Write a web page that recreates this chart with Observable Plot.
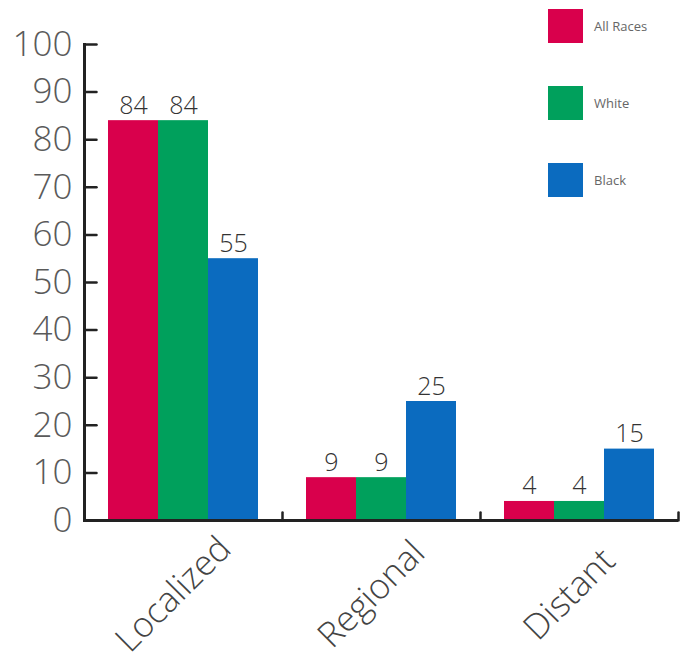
<!DOCTYPE html>
<html>
<head>
<meta charset="utf-8">
<script src="https://cdn.jsdelivr.net/npm/d3@7"></script>
<script src="https://cdn.jsdelivr.net/npm/@observablehq/plot@0.6"></script>
<style>
  html, body { margin: 0; padding: 0; background: #fff; }
  #wrap { position: relative; width: 681px; height: 665px; }
  #legend { position: absolute; left: 548px; top: 8px; font-family: "Open Sans", "DejaVu Sans", sans-serif; font-size: 13px; color: #666; }
  .item { display: flex; align-items: center; height: 35px; margin-bottom: 42px; }
  .swatch { width: 35px; height: 34px; margin-right: 11px; }
</style>
</head>
<body>
<div id="wrap">
  <div id="chart"></div>
  <div id="legend"></div>
</div>
<script>
// Stage at diagnosis and race groups
const stages = ["Localized", "Regional", "Distant"];
const races = ["All Races", "White", "Black"];
const allRaces = [84, 9, 4];
const white = [84, 9, 4];
const black = [55, 25, 15];
const colors = ["#d9004c", "#00a05c", "#0b6bbf"];
const yTicks = [0, 10, 20, 30, 40, 50, 60, 70, 80, 90, 100];

const seriesValues = [allRaces, white, black];
const rows = stages.flatMap((stage, i) =>
  races.map((race, j) => ({stage, race, value: seriesValues[j][i]}))
);

const font = '"Open Sans", "DejaVu Sans", sans-serif';

// plain straight tick stroke (no arrowhead)
const tickShape = {
  draw(context, l) {
    context.moveTo(0, 0);
    context.lineTo(0, -l);
  }
};

const chart = Plot.plot({
  width: 681,
  height: 665,
  marginLeft: 83,
  marginRight: 3,
  marginTop: 44,
  marginBottom: 145,
  style: {fontFamily: font, background: "#fff"},
  fx: {domain: stages, padding: 0, axis: null},
  x: {domain: races, paddingInner: 0, paddingOuter: 0.47, axis: null},
  y: {domain: [0, 100]},
  color: {domain: races, range: colors},
  marks: [
    Plot.barY(rows, {fx: "stage", x: "race", y: "value", fill: "race"}),
    Plot.text(rows, {
      fx: "stage", x: "race", y: "value", text: "value",
      lineAnchor: "bottom", dy: -7, fontSize: 25, fill: "#333", fontWeight: 300
    }),
    // axis lines and ticks
    Plot.ruleY([0], {stroke: "#222", strokeWidth: 3}),
    Plot.frame({anchor: "left", facetAnchor: "left", stroke: "#222", strokeWidth: 3}),
    Plot.vector(yTicks, {
      y: d => d, frameAnchor: "left", rotate: 90, length: 12, anchor: "start",
      shape: tickShape, stroke: "#222", strokeWidth: 2.5, facetAnchor: "left"
    }),
    Plot.vector([0], {
      frameAnchor: "bottom-right", length: 8, anchor: "start",
      shape: tickShape, stroke: "#222", strokeWidth: 2.5
    }),
    Plot.axisY({
      ticks: yTicks, tickSize: 0, tickPadding: 12, fontSize: 35,
      fill: "#5a5a5a", fontWeight: 300, label: null
    }),
    // category labels under each group
    Plot.text(stages, {
      fx: d => d, text: d => d, frameAnchor: "bottom", rotate: -45,
      dy: 82, dx: -2, fontSize: 35, fill: "#444", fontWeight: 300
    })
  ]
});

document.getElementById("chart").appendChild(chart);

// legend on the upper right
const legend = d3.select("#legend");
races.forEach((race, i) => {
  const item = legend.append("div").attr("class", "item");
  item.append("div").attr("class", "swatch").style("background", colors[i]);
  item.append("span").text(race);
});
</script>
</body>
</html>
